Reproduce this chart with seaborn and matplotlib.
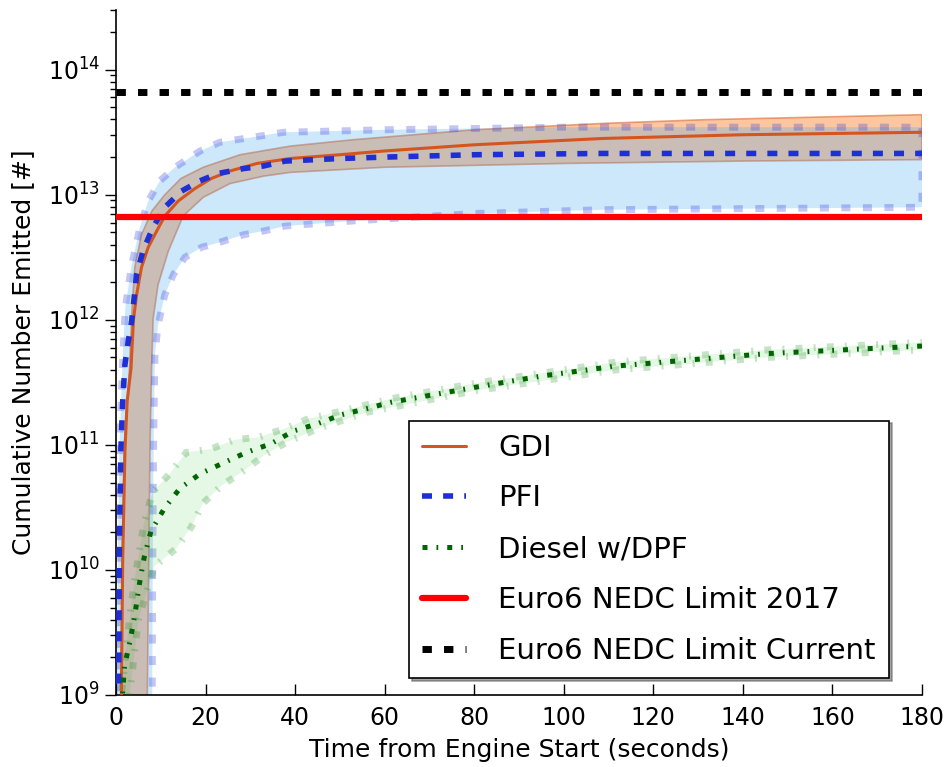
import numpy as np
import matplotlib
matplotlib.use("Agg")
import matplotlib.pyplot as plt
import seaborn as sns

# Cumulative particle number vs time from engine start (log scale)
gdi_t = [1.05, 1.2, 1.5, 2.0, 2.5, 3.35, 3.9, 4.6, 5.7, 7.2, 9.1, 10.9, 13.9, 17.6, 21.3, 25.5,
         31.5, 38.9, 50, 60, 80, 108.7, 140, 180]
gdi_n = [1e8, 1e9, 1.2e10, 8.9e10, 2.24e11, 4.07e11, 1.0e12, 1.58e12, 2.63e12, 3.8e12, 5.13e12,
         6.76e12, 8.91e12, 1.12e13, 1.35e13, 1.55e13, 1.78e13, 1.95e13, 2.09e13, 2.24e13, 2.51e13,
         2.82e13, 3.02e13, 3.16e13]
gdi_hi_t = [0.95, 1.1, 1.4, 1.85, 3.0, 3.6, 4.2, 5.7, 8.0, 10.9, 14.5, 19.5, 27.7, 38.9, 52.7,
            80, 108.7, 131, 180]
gdi_hi_n = [1e8, 1e9, 1.2e10, 1e11, 4.07e11, 1.26e12, 2.63e12, 4.79e12, 7.41e12, 1e13, 1.35e13,
            1.66e13, 2.09e13, 2.45e13, 2.75e13, 3.31e13, 3.72e13, 3.98e13, 4.37e13]
gdi_lo_t = [6.8, 7.0, 7.3, 7.6, 7.95, 8.3, 9.4, 11.7, 15.0, 19.5, 25.5, 33.0, 38.9, 60, 100, 140, 180]
gdi_lo_n = [1e8, 1e9, 1e10, 1e11, 4.07e11, 1.02e12, 1.91e12, 3.55e12, 6.76e12, 9.55e12, 1.23e13,
            1.41e13, 1.51e13, 1.66e13, 1.78e13, 1.86e13, 1.91e13]

pfi_t = [0.5, 0.6, 0.75, 1.1, 1.5, 2.0, 2.75, 3.5, 4.6, 6.1, 8.3, 10.9, 14.65, 18.7, 22.8, 28.5,
         33, 37.8, 50, 60, 80, 108.7, 140, 180]
pfi_n = [1e8, 1e9, 1.48e10, 9.3e10, 2.24e11, 4.37e11, 6.76e11, 9.77e11, 2.29e12, 3.63e12, 5.5e12,
         7.94e12, 1.07e13, 1.29e13, 1.48e13, 1.62e13, 1.7e13, 1.86e13, 1.95e13, 2.0e13, 2.09e13,
         2.14e13, 2.14e13, 2.14e13]
pfi_hi_t = [0.0, 0.1, 0.4, 0.8, 1.5, 2.1, 3.5, 5.35, 7.2, 9.8, 13.2, 18.8, 23.2, 32.2, 37.4, 60, 100, 180]
pfi_hi_n = [1e8, 1e9, 1e10, 1e11, 5.01e11, 1.26e12, 2.75e12, 5.5e12, 8.91e12, 1.29e13, 1.66e13,
            2.24e13, 2.63e13, 2.95e13, 3.16e13, 3.31e13, 3.47e13, 3.47e13]
pfi_lo_t = [8.0, 8.1, 8.2, 8.4, 8.7, 9.4, 10.9, 12.8, 15.4, 19.1, 23.2, 28.5, 33, 37.8, 52.7, 80, 108.7, 180]
pfi_lo_n = [1e8, 1e9, 1e10, 1e11, 5.25e11, 9.12e11, 1.58e12, 2.29e12, 3.16e12, 3.8e12, 4.17e12,
            4.79e12, 5.13e12, 5.62e12, 6.17e12, 7.08e12, 7.59e12, 7.94e12]

dpf_t = [1.0, 1.5, 1.9, 3.2, 4.3, 5.2, 6.3, 7.8, 10.8, 14.3, 18.9, 24.1, 29.1, 34.6, 39.6, 45.1,
         50.3, 56.0, 61.4, 80, 95, 111.7, 128.5, 145.5, 162.4, 180]
dpf_n = [8e8, 1.05e9, 1.7e9, 2.75e9, 4.6e9, 7.6e9, 1.26e10, 2.04e10, 3.1e10, 4.5e10, 5.9e10, 7.2e10,
         8.7e10, 1.02e11, 1.29e11, 1.48e11, 1.74e11, 1.95e11, 2.19e11, 2.88e11, 3.55e11, 4.27e11,
         4.79e11, 5.37e11, 5.75e11, 6.17e11]
dpf_hi_t = [0.5, 3.0, 4.1, 6.3, 8.2, 12.0, 15.7, 21.3, 26.5, 31.8, 37.7, 43.0, 50.3, 61.4, 80, 111.7, 145.5, 180]
dpf_hi_n = [6e8, 4e9, 8e9, 2.4e10, 4.2e10, 5.9e10, 8.7e10, 9.3e10, 1.1e11, 1.15e11, 1.35e11, 1.62e11,
            1.86e11, 2.34e11, 3.1e11, 4.6e11, 5.75e11, 6.6e11]
dpf_lo_t = [2.3, 5.0, 8.6, 13.4, 16.8, 19.4, 23.5, 28.8, 33.2, 38.1, 45.1, 56.0, 80, 111.7, 145.5, 180]
dpf_lo_n = [6e8, 4e9, 1.07e10, 1.48e10, 2.2e10, 3.4e10, 4.7e10, 6.3e10, 8.3e10, 1.05e11, 1.35e11,
            1.82e11, 2.7e11, 3.98e11, 5.0e11, 5.75e11]

limit_t = [0, 180]
limit_2017 = 6.6e12
limit_current = 6.6e13

sns.set_style("ticks")
plt.rcParams["font.family"] = ["DejaVu Sans"]
plt.rcParams["mathtext.fontset"] = "dejavusans"
plt.rcParams["text.color"] = "black"
plt.rcParams["axes.labelcolor"] = "black"

fig = plt.figure(figsize=(9.46, 7.67), dpi=100)
ax = fig.add_axes([0.1226, 0.0939, 0.852, 0.893])
ax.set_yscale("log")


def band(t_hi, n_hi, t_lo, n_lo, face, edge, lw, ls, z):
    xs = np.concatenate([t_hi, t_lo[::-1]])
    ys = np.concatenate([n_hi, n_lo[::-1]])
    ax.fill(xs, ys, facecolor=face, edgecolor=edge, linewidth=lw, linestyle=ls, zorder=z)


band(gdi_hi_t, gdi_hi_n, gdi_lo_t, gdi_lo_n,
     (0.98, 0.47, 0.12, 0.42), (0.85, 0.38, 0.15, 0.55), 1.2, "-", 1)
band(pfi_hi_t, pfi_hi_n, pfi_lo_t, pfi_lo_n,
     (0.22, 0.64, 0.95, 0.25), (0.16, 0.2, 0.86, 0.28), 5, (0, (1.3, 1.8)), 2)
band(dpf_hi_t, dpf_hi_n, dpf_lo_t, dpf_lo_n,
     (0.0, 0.72, 0.0, 0.1), (0.0, 0.5, 0.0, 0.22), 5, (0, (1.0, 1.6, 0.3, 1.6)), 3)

sns.lineplot(x=gdi_t, y=gdi_n, ax=ax, color="#d4561e", lw=2.2, zorder=5, label="GDI")
sns.lineplot(x=pfi_t, y=pfi_n, ax=ax, color="#1f2fd6", lw=4, linestyle=(0, (1.8, 2.0)),
             zorder=6, label="PFI")
sns.lineplot(x=dpf_t, y=dpf_n, ax=ax, color="#006400", lw=3.6, linestyle=(0, (1.0, 1.8, 0.35, 1.8)),
             zorder=6, label="Diesel w/DPF")
sns.lineplot(x=limit_t, y=[limit_2017, limit_2017], ax=ax, color="#ff0000", lw=4.5, zorder=7,
             label="Euro6 NEDC Limit 2017")
sns.lineplot(x=limit_t, y=[limit_current, limit_current], ax=ax, color="black", lw=5,
             linestyle=(0, (1.35, 1.75)), zorder=7, label="Euro6 NEDC Limit Current")

ax.set_xlim(0, 180)
ax.set_ylim(1e9, 3e14)
ax.set_xticks(np.arange(0, 181, 20))
ax.set_xlabel("Time from Engine Start (seconds)", fontsize=18, labelpad=6)
ax.set_ylabel("Cumulative Number Emitted [#]", fontsize=18, labelpad=9)

for side in ("top", "right"):
    ax.spines[side].set_visible(False)
for side in ("left", "bottom"):
    ax.spines[side].set_color("black")
    ax.spines[side].set_linewidth(1.2)

ax.tick_params(axis="x", which="major", direction="in", length=8, width=1, labelsize=17, pad=8,
               colors="black")
ax.tick_params(axis="y", which="major", direction="out", length=8, width=1, labelsize=17,
               colors="black")
ax.tick_params(axis="y", which="minor", direction="out", length=4, width=1, colors="black")

leg = ax.legend(loc="lower right", bbox_to_anchor=(0.959, 0.025), borderaxespad=0,
                fontsize=21, frameon=True, fancybox=False, shadow=True,
                handlelength=1.5, handletextpad=1.1, labelspacing=0.78, borderpad=0.45)
leg.get_frame().set_edgecolor("black")
leg.get_frame().set_linewidth(1.2)

fig.savefig("out.png", dpi=100)
